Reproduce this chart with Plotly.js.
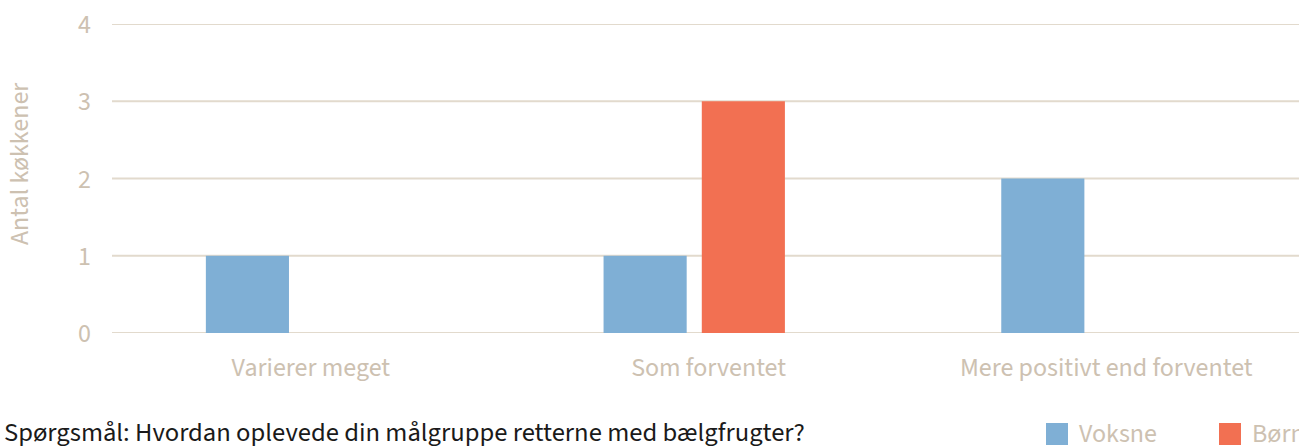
<!DOCTYPE html>
<html>
<head>
<meta charset="utf-8">
<script src="https://cdn.plot.ly/plotly-3.0.1.min.js"></script>
<style>html,body{margin:0;padding:0;background:#fff;}#chart{width:1299px;height:446px;}</style>
</head>
<body>
<div id="chart"></div>
<script>
const categories = ["Varierer meget", "Som forventet", "Mere positivt end forventet"];
const seriesNames = ["Voksne", "Børn"];
const voksne = [1, 1, 2];
const born = [0, 3, 0];
const colors = ["#7fafd5", "#f27052"];
const yTicks = [0, 1, 2, 3, 4];
const questionText = "Spørgsmål: Hvordan oplevede din målgruppe retterne med bælgfrugter?";
const yTitle = "Antal køkkener";

const FONT = "'Source Sans Pro', 'Source Sans 3', 'Noto Sans', sans-serif";
const beige = "#cdc1b1";

const traces = [
  {type: "bar", name: seriesNames[0], x: categories, y: voksne, marker: {color: colors[0]}, width: 0.209, offset: -0.264, showlegend: false, hoverinfo: "x+y+name"},
  {type: "bar", name: seriesNames[1], x: categories, y: born, marker: {color: colors[1]}, width: 0.209, offset: -0.017, showlegend: false, hoverinfo: "x+y+name"}
];

const W = 1299, H = 446, ml = 112, mr = 0, mt = 24, mb = 113;
const pw = W - ml - mr, ph = H - mt - mb;
function px2x(p) { return (p - ml) / pw; }
function py2y(p) { return (H - mb - p) / ph; }

const shapes = [];
const annotations = [];
// gridlines
yTicks.forEach(v => {
  shapes.push({type: "line", xref: "paper", yref: "y", x0: 0, x1: 1, y0: v, y1: v, layer: "below",
    line: {color: "#e2dacd", width: 2}});
});
// legend
const legendX = [1046, 1219];
seriesNames.forEach((n, i) => {
  shapes.push({type: "rect", xref: "paper", yref: "paper", x0: px2x(legendX[i]), x1: px2x(legendX[i] + 22),
    y0: py2y(445), y1: py2y(423), fillcolor: colors[i], line: {width: 0}});
  annotations.push({text: n, xref: "paper", yref: "paper", x: px2x(legendX[i] + 31), y: py2y(433),
    xanchor: "left", yanchor: "middle", showarrow: false, font: {family: FONT, size: 26, color: beige}});
});
annotations.push({text: questionText, xref: "paper", yref: "paper", x: px2x(2), y: py2y(433), xanchor: "left", yanchor: "middle",
  showarrow: false, font: {family: FONT, size: 26.6, color: "#1a1a1a"}});
annotations.push({text: yTitle, xref: "paper", yref: "paper", x: px2x(20), y: py2y(164), xanchor: "center", yanchor: "middle",
  textangle: -90, showarrow: false, font: {family: FONT, size: 26, color: beige}});

const layout = {
  width: W, height: H,
  margin: {l: ml, r: mr, t: mt, b: mb, pad: 0},
  paper_bgcolor: "#fff", plot_bgcolor: "rgba(0,0,0,0)",
  barmode: "group",
  showlegend: false,
  xaxis: {
    type: "category", range: [-0.5, -0.5 + pw / 397.7],
    showgrid: false, zeroline: false, showline: false, ticks: "",
    tickfont: {family: FONT, size: 26, color: beige}, ticklabelstandoff: 16
  },
  yaxis: {
    range: [0, 4], tickvals: yTicks, ticktext: yTicks.map(String),
    showgrid: false, zeroline: false, showline: false, ticks: "",
    tickfont: {family: FONT, size: 26, color: beige}, ticklabelstandoff: 20
  },
  shapes: shapes,
  annotations: annotations
};

Plotly.newPlot("chart", traces, layout, {displayModeBar: false, staticPlot: true});
</script>
</body>
</html>
